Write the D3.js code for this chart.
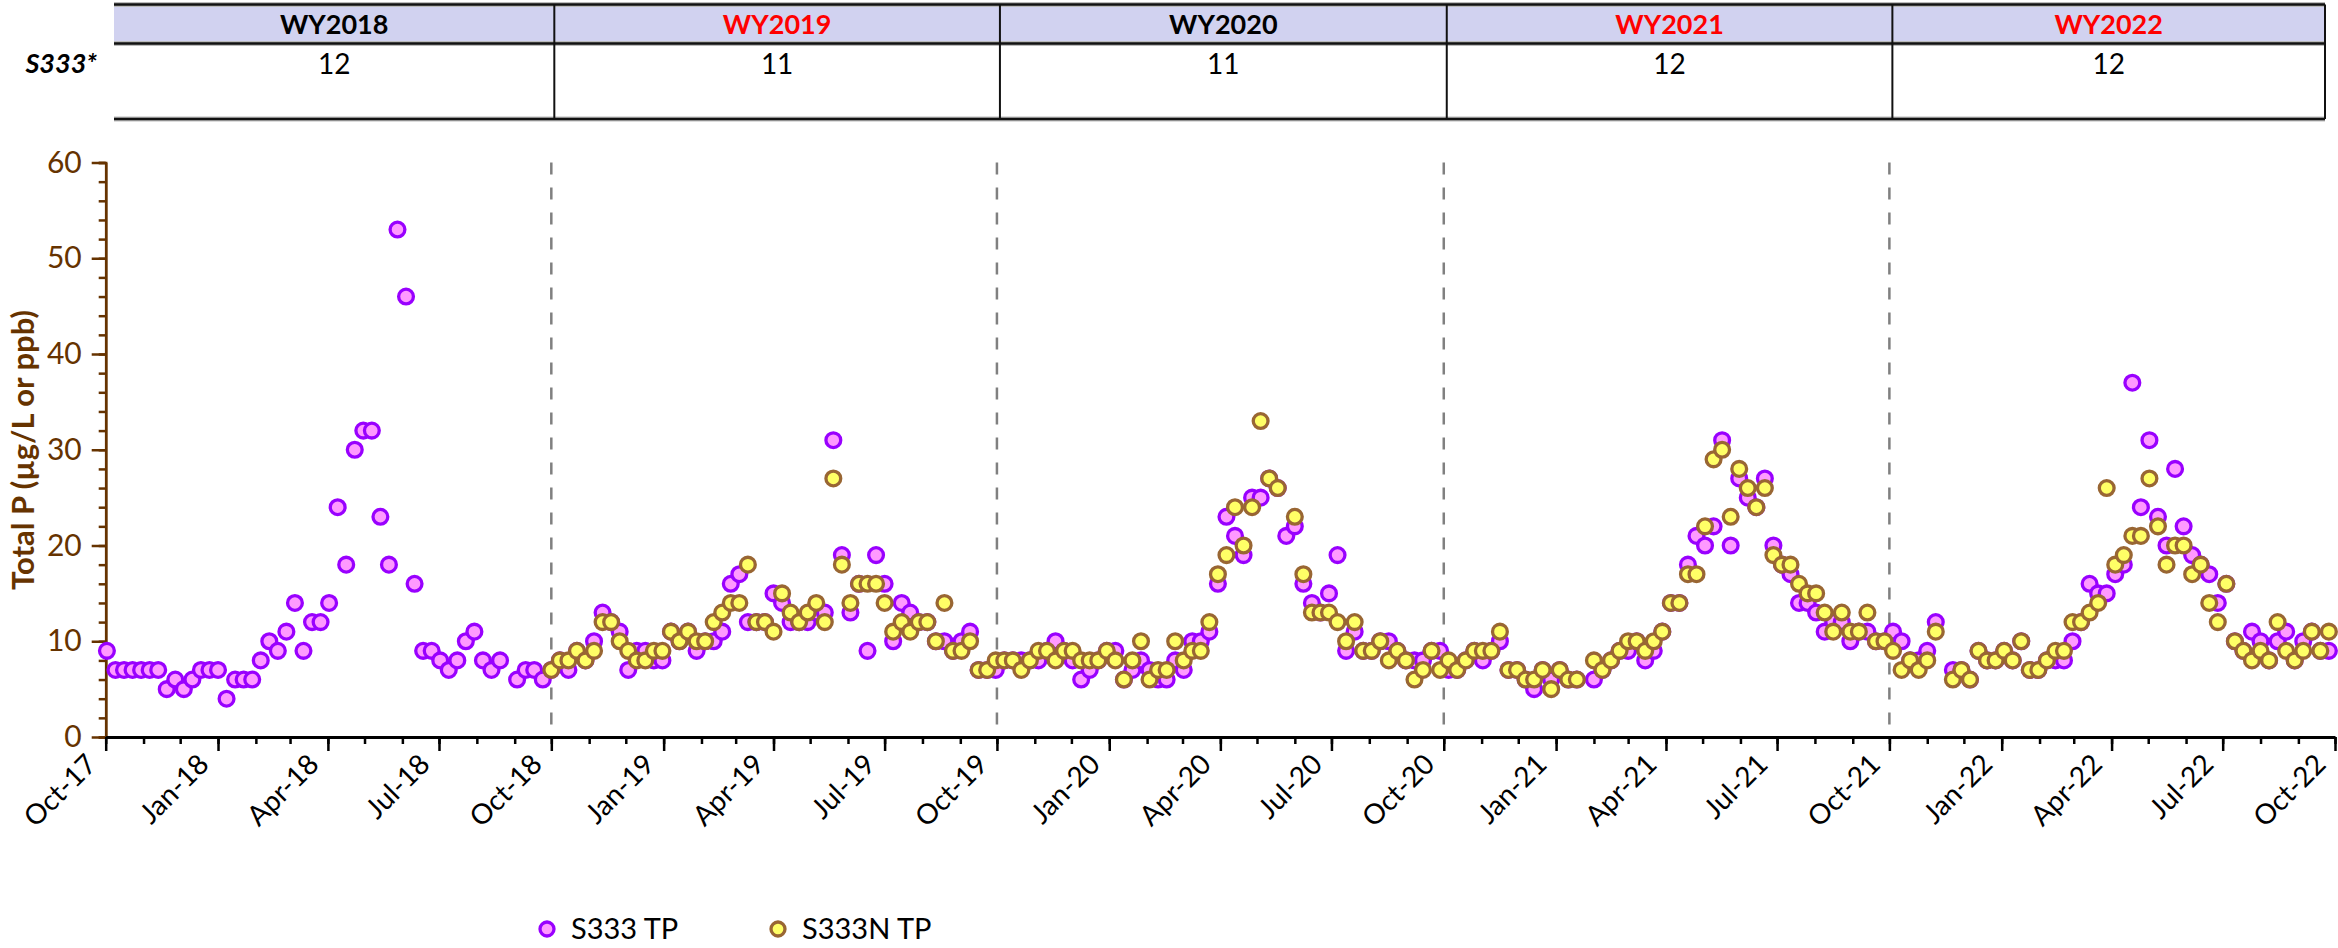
<!DOCTYPE html>
<html>
<head>
<meta charset="utf-8">
<script src="https://cdn.jsdelivr.net/npm/d3@7/dist/d3.min.js"></script>
<style>
  body { margin: 0; background: #fff; }
  text { font-family: Lato, "Open Sans", sans-serif; }
</style>
</head>
<body>
<script>
// water years shown in the header table
var waterYears = ["WY2018", "WY2019", "WY2020", "WY2021", "WY2022"];
var wyColors = ["#000", "#ff0000", "#000", "#ff0000", "#ff0000"];
var sampleCounts = ["12", "11", "11", "12", "12"];
var wyBounds = ["2018-10-01", "2019-10-01", "2020-10-01", "2021-10-01"];

// weekly (Monday) samples, first Monday of each water year; null = no sample
var firstMonday = ["2017-10-02", "2018-10-01", "2019-09-30", "2020-09-28", "2021-09-27"];

// S333 TP (ug/L)
var s333_2018 = [9,7,7,7,7,7,7,5,6,5,6,7,7,7,4,6,6,6,8,10,9,11,14,9,12,12,14,24,18,30,32,32,23,18,53,46,16,9,9,8,7,8,10,11,8,7,8,null,6,7,7,6];
var s333_2019 = [7,8,7,9,8,10,13,12,11,7,9,9,8,8,11,10,11,9,10,10,11,16,17,12,12,12,15,14,12,12,12,13,13,31,19,13,16,9,19,16,10,14,13,12,12,10,10,9,10,11,7,7];
var s333_2020 = [7,8,8,8,8,8,9,10,9,8,6,7,8,9,9,6,7,8,7,6,6,8,7,10,10,11,16,23,21,19,25,25,27,26,21,22,16,14,13,15,19,9,11,9,9,10,10,9,8,8,8,9];
var s333_2021 = [9,7,7,8,9,8,9,10,7,7,6,5,7,6,7,6,6,null,6,7,8,9,9,10,8,9,11,14,14,18,21,20,22,31,20,27,25,24,27,20,18,17,14,14,13,11,12,12,10,11,11,10];
var s333_2022 = [10,11,10,8,8,9,12,null,7,7,6,9,8,8,9,8,10,7,7,8,8,8,10,12,16,15,15,17,18,37,24,31,23,20,28,22,19,18,17,14,16,10,9,11,10,8,10,11,8,10,11,9,9];

// S333N TP (ug/L), not sampled in WY2018
var s333n_2018 = [];
var s333n_2019 = [7,8,8,9,8,9,12,12,10,9,8,8,9,9,11,10,11,10,10,12,13,14,14,18,12,12,11,15,13,12,13,14,12,27,18,14,16,16,16,14,11,12,11,12,12,10,14,9,9,10,7,7];
var s333n_2020 = [8,8,8,7,8,9,9,8,9,9,8,8,8,9,8,6,8,10,6,7,7,10,8,9,9,12,17,19,24,20,24,33,27,26,null,23,17,13,13,13,12,10,12,9,9,10,8,9,8,6,7,9];
var s333n_2021 = [7,8,7,8,9,9,9,11,7,7,6,6,7,5,7,6,6,null,8,7,8,9,10,10,9,10,11,14,14,17,17,22,29,30,23,28,26,24,26,19,18,18,16,15,15,13,11,13,11,11,13,10];
var s333n_2022 = [10,9,7,8,7,8,11,null,6,7,6,9,8,8,9,8,10,7,7,8,9,9,12,12,13,14,26,18,19,21,21,27,22,18,20,20,17,18,14,12,16,10,9,8,9,8,12,9,8,9,11,9,11];

var yTicks = [0, 10, 20, 30, 40, 50, 60];

var W = 2338, H = 948;
var parse = d3.timeParse("%Y-%m-%d");

function toPoints(yearArrays) {
  var pts = [];
  yearArrays.forEach(function (vals, yi) {
    var start = parse(firstMonday[yi]);
    vals.forEach(function (v, i) {
      if (v !== null) pts.push({ date: d3.timeWeek.offset(start, i), value: v });
    });
  });
  return pts;
}
var s333Pts = toPoints([s333_2018, s333_2019, s333_2020, s333_2021, s333_2022]);
var s333nPts = toPoints([s333n_2018, s333n_2019, s333n_2020, s333n_2021, s333n_2022]);

var svg = d3.select("body").append("svg")
  .attr("width", W).attr("height", H)
  .style("display", "block");

var x = d3.scaleTime()
  .domain([parse("2017-10-01"), parse("2022-10-01")])
  .range([105.7, 2335]);
var y = d3.scaleLinear().domain([0, 60]).range([737, 162.5]);

var brown = "#663300";

// water-year separators
svg.append("g").selectAll("line")
  .data(wyBounds)
  .enter().append("line")
  .attr("x1", function (d) { return x(parse(d)); })
  .attr("x2", function (d) { return x(parse(d)); })
  .attr("y1", y(60)).attr("y2", y(0))
  .attr("stroke", "#808080")
  .attr("stroke-width", 2.5)
  .attr("stroke-dasharray", "12,13");

// y axis: minor then major
var yMinor = svg.append("g").attr("transform", "translate(" + x.range()[0] + ",0)")
  .call(d3.axisLeft(y).tickValues(d3.range(0, 61, 2)).tickSize(7).tickFormat(""));
var yAxis = svg.append("g").attr("transform", "translate(" + x.range()[0] + ",0)")
  .call(d3.axisLeft(y).tickValues(yTicks).tickSize(14).tickSizeOuter(0).tickPadding(10));
[yMinor, yAxis].forEach(function (g) {
  g.selectAll("path,line").attr("stroke", brown).attr("stroke-width", 2.5);
});
yAxis.selectAll("text")
  .attr("fill", brown)
  .style("font-size", "30px");

svg.append("text")
  .attr("transform", "translate(34," + 450 + ") rotate(-90)")
  .attr("text-anchor", "middle")
  .attr("fill", brown)
  .style("font-size", "31px")
  .style("font-weight", "bold")
  .text("Total P (µg/L or ppb)");

// x axis: monthly minor ticks, quarterly labelled ticks
var xMinor = svg.append("g").attr("transform", "translate(0," + y(0) + ")")
  .call(d3.axisBottom(x).ticks(d3.timeMonth.every(1)).tickSize(7).tickFormat(""));
var xAxis = svg.append("g").attr("transform", "translate(0," + y(0) + ")")
  .call(d3.axisBottom(x).ticks(d3.timeMonth.every(3))
    .tickFormat(d3.timeFormat("%b-%y")).tickSize(14).tickSizeOuter(0));
[xMinor, xAxis].forEach(function (g) {
  g.selectAll("path,line").attr("stroke", "#000").attr("stroke-width", 2.5);
});
xMinor.select("path").remove();
xAxis.select("path").attr("stroke-width", 3);
xAxis.selectAll("text")
  .attr("fill", "#000")
  .style("font-size", "28px")
  .attr("text-anchor", "end")
  .attr("dy", null)
  .attr("y", 0)
  .attr("transform", "translate(-8,29) rotate(-45)");

// points
function drawPoints(pts, fill, stroke) {
  svg.append("g").selectAll("circle")
    .data(pts)
    .enter().append("circle")
    .attr("cx", function (d) { return x(d.date); })
    .attr("cy", function (d) { return y(d.value); })
    .attr("r", 7.4)
    .attr("fill", fill)
    .attr("stroke", stroke)
    .attr("stroke-width", 3.3);
}
drawPoints(s333Pts, "#ff99ff", "#9900ff");
drawPoints(s333nPts, "#ffff66", "#996633");

// legend
var legendItems = [
  { label: "S333 TP", fill: "#ff99ff", stroke: "#9900ff", x: 547 },
  { label: "S333N TP", fill: "#ffff66", stroke: "#996633", x: 778 }
];
var lg = svg.append("g").selectAll("g").data(legendItems).enter().append("g")
  .attr("transform", function (d) { return "translate(" + d.x + ",929)"; });
lg.append("circle").attr("r", 7)
  .attr("fill", function (d) { return d.fill; })
  .attr("stroke", function (d) { return d.stroke; })
  .attr("stroke-width", 3.3);
lg.append("text").attr("x", 24).attr("dy", "0.35em")
  .style("font-size", "29px")
  .text(function (d) { return d.label; });

// header table
var tLeft = 114, tRight = 2325, hTop = 4.5, hBot = 43.5, rBot = 119;
var colEdges = [tLeft].concat(wyBounds.map(function (d) { return x(parse(d)) + 3; })).concat([tRight]);
var table = svg.append("g");
table.append("rect")
  .attr("x", tLeft).attr("y", hTop)
  .attr("width", tRight - tLeft).attr("height", hBot - hTop)
  .attr("fill", "#d1d2f0");
[hTop, hBot, rBot].forEach(function (ly) {
  table.append("line")
    .attr("x1", tLeft).attr("x2", tRight)
    .attr("y1", ly).attr("y2", ly)
    .attr("stroke", "#bbb").attr("stroke-width", 5);
  table.append("line")
    .attr("x1", tLeft).attr("x2", tRight)
    .attr("y1", ly).attr("y2", ly)
    .attr("stroke", "#111").attr("stroke-width", 2.5);
});
table.selectAll(".div")
  .data(colEdges.slice(1))
  .enter().append("line")
  .attr("x1", function (d) { return d; }).attr("x2", function (d) { return d; })
  .attr("y1", hTop).attr("y2", rBot)
  .attr("stroke", "#111").attr("stroke-width", 2);

var cols = waterYears.map(function (wy, i) {
  return { wy: wy, color: wyColors[i], n: sampleCounts[i], cx: (colEdges[i] + colEdges[i + 1]) / 2 };
});
table.selectAll(".wy").data(cols).enter().append("text")
  .attr("x", function (d) { return d.cx; }).attr("y", 25)
  .attr("dy", "0.35em")
  .attr("text-anchor", "middle")
  .attr("fill", function (d) { return d.color; })
  .style("font-size", "27px").style("font-weight", "bold")
  .text(function (d) { return d.wy; });
table.selectAll(".n").data(cols).enter().append("text")
  .attr("x", function (d) { return d.cx; }).attr("y", 64)
  .attr("dy", "0.35em")
  .attr("text-anchor", "middle")
  .attr("fill", "#000")
  .style("font-size", "28px")
  .text(function (d) { return d.n; });
table.append("text")
  .attr("x", 97).attr("y", 64).attr("dy", "0.35em")
  .attr("text-anchor", "end")
  .style("font-size", "27px").style("font-weight", "bold").style("font-style", "italic")
  .text("S333*");
</script>
</body>
</html>
